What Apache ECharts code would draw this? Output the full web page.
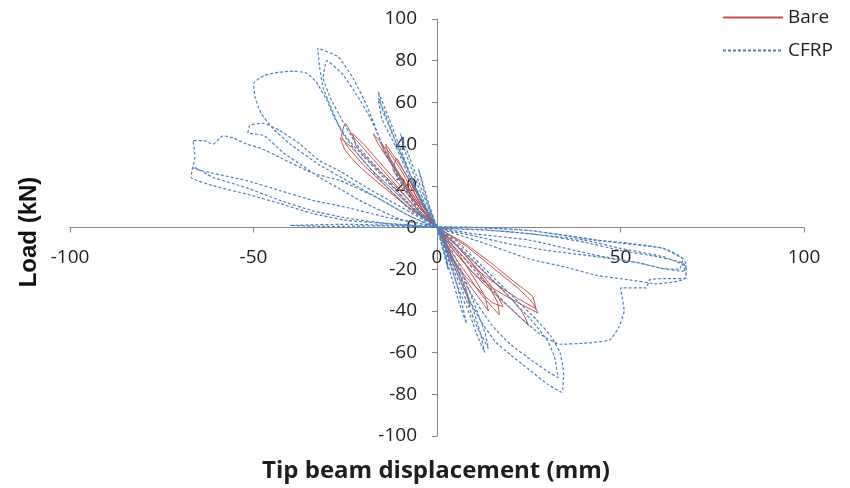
<!DOCTYPE html>
<html>
<head>
<meta charset="utf-8">
<script src="https://cdn.jsdelivr.net/npm/echarts@6/dist/echarts.min.js"></script>
<style>
html,body{margin:0;padding:0;background:#fff;}
#chart{width:850px;height:488px;}
</style>
</head>
<body>
<div id="chart"></div>
<script>
// Axis ticks
const xTicks = [-100, -50, 0, 50, 100];
const yTicks = [-100, -80, -60, -40, -20, 0, 20, 40, 60, 80, 100];
const seriesNames = ['Bare', 'CFRP'];

// Bare specimen cycles: [displacement mm, load kN]
const bareCycle1 = [[0,0],[2,-8],[4,-16],[3.5,-11],[1,-2],[-2,6],[-5,15],[-7,22],[-6,16],[-3,6],[0,0]];
const bareCycle2 = [[0,0],[3,-12],[6,-24],[8.4,-34],[9,-38],[8,-30],[5,-18],[2,-6],[-2,5],[-6,16],[-10,28],[-13,36],[-15.5,41],[-14,35],[-10,24],[-5,10],[0,0]];
const bareCycle3 = [[0,0],[4,-12],[8,-22],[12,-32],[15,-38],[17,-42],[16.5,-36],[14,-28],[9,-16],[4,-6],[0,0],[-4,8],[-8,18],[-12,30],[-15,40],[-17.4,45],[-16,40],[-13,32],[-9,22],[-4,9],[0,0]];
const bareCycle4 = [[0,0],[5,-12],[10,-22],[16,-30],[22,-36],[27.5,-41],[26,-36],[22,-29],[15,-19],[8,-9],[2,-2],[-4,6],[-9,16],[-14,26],[-19,36],[-23,44],[-25,50],[-26,44],[-24,38],[-20,30],[-14,20],[-8,10],[0,0]];
const bareCycle5 = [[0,0],[5,-10],[10,-19],[16,-27],[22,-34],[27,-39],[26,-33],[21,-26],[14,-16],[7,-7],[0,0],[-6,8],[-12,18],[-18,28],[-23,38],[-26.4,43],[-25,37],[-21,29],[-15,20],[-8,10],[0,0]];
const bareCycle6 = [[0,0],[4,-14],[8,-24],[12,-31],[15,-36],[18,-38],[16,-31],[12,-22],[6,-10],[0,0],[-5,10],[-9,20],[-12,28],[-11,33],[-9,27],[-5,15],[0,0]];
const bareCycle7 = [[0,0],[5,-12],[11,-24],[17,-34],[22,-42],[25,-47],[23,-40],[19,-32],[12,-20],[5,-8],[0,0],[-5,10],[-10,20],[-15,30],[-20,40],[-23,45],[-22,39],[-18,31],[-12,21],[-6,10],[0,0]];
const bareCycle8 = [[0,0],[3,-10],[6,-20],[9,-28],[12,-35],[14,-40],[13,-33],[10,-24],[6,-13],[2,-4],[0,0],[-3,8],[-6,18],[-9,27],[-12,35],[-14,40],[-13,34],[-10,25],[-6,14],[-2,4],[0,0]];

// CFRP specimen cycles: [displacement mm, load kN]
const cfrpCycle1 = [[0,0],[1.5,-10],[3,-20],[2.5,-14],[1,-4],[-1,4],[-3,14],[-5,28],[-4,22],[-2,10],[0,0]];
const cfrpCycle2 = [[0,0],[2,-12],[4,-24],[6,-36],[8,-46],[7,-38],[5,-25],[2,-8],[-2,8],[-5,22],[-8,36],[-10,45],[-9,38],[-6,24],[-3,10],[0,0]];
const cfrpCycle3 = [[0,0],[3,-15],[6,-30],[9,-42],[11,-52],[13,-60],[12,-52],[10,-40],[6,-22],[2,-6],[-2,6],[-6,20],[-10,38],[-13,52],[-16,65],[-15,57],[-12,44],[-8,28],[-4,12],[0,0]];
const cfrpCycle4 = [[0,0],[4,-18],[8,-35],[11,-48],[14,-58],[13,-50],[10,-36],[6,-18],[2,-4],[-3,8],[-7,24],[-11,40],[-14,54],[-16,62],[-15,52],[-11,38],[-7,22],[-3,8],[0,0]];
const cfrpCycle5 = [[0,0],[4,-16],[8,-32],[12,-45],[16,-55],[20,-61],[25,-68],[30,-75],[34,-79],[34.5,-70],[33.5,-60],[31,-52],[27,-44],[20,-32],[12,-18],[5,-6],[0,0],[-5,8],[-10,22],[-15,40],[-19,58],[-23,72],[-27,82],[-32.5,86],[-32,77],[-31,67],[-29,58],[-26,46],[-21,34],[-14,20],[-7,8],[0,0]];
const cfrpCycle6 = [[0,0],[5,-18],[10,-34],[15,-47],[20,-56],[26,-64],[31,-70],[33,-72],[32,-62],[30,-54],[26,-45],[19,-32],[10,-16],[3,-4],[0,0],[-4,6],[-9,20],[-14,36],[-18,52],[-22,64],[-26,74],[-30,80],[-31,72],[-29,62],[-26,52],[-22,40],[-16,28],[-9,14],[-3,4],[0,0]];
const cfrpCycle7 = [[0,0],[6,-12],[14,-28],[22,-42],[28,-51],[33.5,-56],[40,-55.5],[47,-54],[49.5,-48],[51,-40],[50.5,-34],[50,-29],[57,-29],[58,-25],[63,-24.5],[67.5,-24.5],[68,-20],[67,-17],[60,-14],[50,-11],[40,-7],[30,-4],[20,-2],[10,-1],[0,0],[-8,6],[-16,14],[-24,22],[-32,30],[-40,40],[-45,48],[-48,55],[-49.5,62],[-50,69],[-47,73],[-43,74.5],[-39,75],[-35.5,74],[-33,70],[-30,61],[-28,53],[-25,44],[-20,34],[-14,23],[-7,10],[0,0]];
const cfrpCycle8 = [[0,0],[10,-4],[20,-8],[30,-11],[43.6,-14],[55,-17],[61.6,-19.7],[67,-21],[68,-18],[67,-15],[61.6,-10],[52,-7.5],[43.6,-6],[34,-3.5],[25,-1.4],[12,0],[0,0.5],[-10,4],[-20,12],[-26,18],[-32,24],[-37,30],[-42,36],[-47,44],[-51.5,45.5],[-51,49],[-47.4,50],[-42.8,46.5],[-37.3,40],[-32,32],[-26.4,27],[-20,20],[-12,12],[-5,5],[0,0]];
const cfrpCycle9 = [[0,0],[12,-7],[25,-15],[35,-19],[43.6,-23],[52,-25],[60,-27],[65,-26],[68,-24],[67,-18],[61.6,-14],[50,-10],[40,-6],[25,-3],[12,-1],[0,0],[-8,6],[-16,14],[-26.4,22.5],[-33.8,26],[-42.8,33.6],[-48,38],[-51.8,40],[-55.6,43],[-58.3,44],[-61,40],[-63.8,41.7],[-66.5,41.7],[-66,36],[-66,33.6],[-66.5,28.8],[-61,26],[-51.8,22.5],[-42.8,17.7],[-33.8,13],[-24.5,9.6],[-14,5],[-5,2],[0,0]];
const cfrpCycle10 = [[0,0],[10,-3],[25,-6],[43.6,-13.4],[55,-17],[61.6,-19.7],[66,-20],[67,-15],[61.6,-10],[43.6,-6.2],[25,-1.4],[10,0],[0,0.5],[-10,1.5],[-24.5,3.4],[-33.8,6.7],[-42.8,11.5],[-51.8,16],[-61,20],[-67,24],[-66.8,27],[-66.5,29],[-61,24],[-51.8,19],[-42.8,13],[-33.8,8],[-24.5,4.5],[-14,2],[0,0]];
const cfrpCycle11 = [[0,0],[-10,1],[-25,1.5],[-40,1],[-30,0.5],[-15,0.8],[0,0]];

const bareData = [].concat(bareCycle1, bareCycle2, bareCycle3, bareCycle4, bareCycle5, bareCycle6, bareCycle7, bareCycle8);
const cfrpData = [].concat(cfrpCycle1, cfrpCycle2, cfrpCycle3, cfrpCycle4, cfrpCycle5, cfrpCycle6, cfrpCycle7, cfrpCycle8, cfrpCycle9, cfrpCycle10, cfrpCycle11);

const chart = echarts.init(document.getElementById('chart'), null, {renderer: 'canvas'});
const labelFont = '"Open Sans", "Liberation Sans", sans-serif';
const axisColor = '#868686';
const textColor = '#1e1e1e';
const gridLeft = 70, gridRight = 46, gridTop = 19, gridBottom = 52;
const gridW = 850 - gridLeft - gridRight;
const gridH = 488 - gridTop - gridBottom;

chart.setOption({
  animation: false,
  backgroundColor: '#ffffff',
  grid: {left: gridLeft, right: gridRight, top: gridTop, bottom: gridBottom, containLabel: false},
  legend: {
    orient: 'vertical',
    left: 717,
    top: 3,
    itemWidth: 60,
    itemHeight: 14,
    itemGap: 14,
    data: seriesNames,
    itemStyle: {opacity: 0},
    textStyle: {fontFamily: labelFont, fontSize: 19, color: textColor}
  },
  xAxis: {
    type: 'value',
    position: 'bottom',
    offset: -gridH / 2,
    min: xTicks[0],
    max: xTicks[xTicks.length - 1],
    interval: 50,
    axisLine: {onZero: false, lineStyle: {color: axisColor, width: 1}},
    axisTick: {show: true, length: 5, lineStyle: {color: axisColor}},
    axisLabel: {margin: 21, fontFamily: labelFont, fontSize: 19, color: textColor},
    splitLine: {show: false}
  },
  yAxis: {
    type: 'value',
    position: 'left',
    offset: -gridW / 2,
    min: yTicks[0],
    max: yTicks[yTicks.length - 1],
    interval: 20,
    axisLine: {show: true, onZero: false, lineStyle: {color: axisColor, width: 1}},
    axisTick: {show: true, length: 5, lineStyle: {color: axisColor}},
    axisLabel: {margin: 20, fontFamily: labelFont, fontSize: 19, color: textColor},
    splitLine: {show: false}
  },
  graphic: [
    {
      type: 'text',
      x: 436, y: 471,
      style: {text: 'Tip beam displacement (mm)', fontFamily: labelFont, fontWeight: 'bold', fontSize: 24, fill: textColor, align: 'center', verticalAlign: 'middle'}
    },
    {
      type: 'text',
      x: 29, y: 232,
      rotation: Math.PI / 2,
      style: {text: 'Load (kN)', fontFamily: '"Liberation Sans", Arial, sans-serif', fontWeight: 'bold', fontSize: 24, fill: '#111', align: 'center', verticalAlign: 'middle'}
    }
  ],
  series: [
    {
      name: seriesNames[0],
      type: 'line',
      data: bareData,
      showSymbol: false,
      symbol: 'none',
      smooth: 0.15,
      lineStyle: {color: '#C0504D', width: 1},
      itemStyle: {color: '#C0504D'},
      z: 2
    },
    {
      name: seriesNames[1],
      type: 'line',
      data: cfrpData,
      showSymbol: false,
      symbol: 'none',
      smooth: 0.15,
      lineStyle: {color: '#4F81BD', width: 1.2, type: [3, 2]},
      itemStyle: {color: '#4F81BD'},
      z: 3
    }
  ]
});
</script>
</body>
</html>
